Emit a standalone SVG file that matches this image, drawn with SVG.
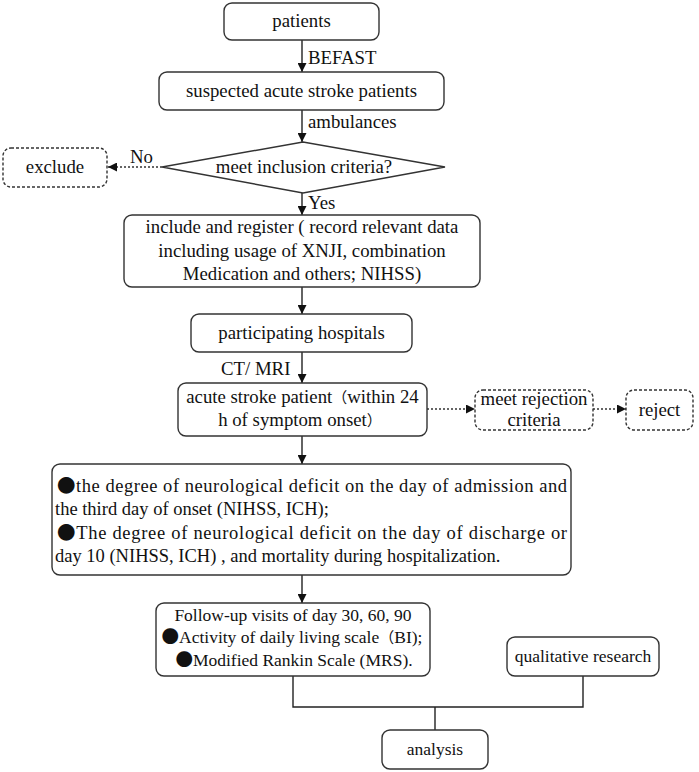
<svg xmlns="http://www.w3.org/2000/svg" width="699" height="772" viewBox="0 0 699 772">
<style>
text{font-family:"Liberation Serif","Times New Roman",serif;font-size:18.8px;fill:#111}
.cjk{font-family:"Noto Sans CJK SC",sans-serif}
.p{font-family:"Noto Sans CJK SC",sans-serif;font-size:15px}
.c{text-anchor:middle}
.m{font-size:18.5px}
.s{font-size:17.5px}
.box{fill:#fff;stroke:#333;stroke-width:1.4}
.dash{fill:#fff;stroke:#333;stroke-width:1.4;stroke-dasharray:3 2}
.ln{fill:none;stroke:#222;stroke-width:1.4}
.dot{fill:none;stroke:#333;stroke-width:1.4;stroke-dasharray:2 2}
</style>
<defs>
<marker id="ah" viewBox="0 0 10 10" refX="10" refY="5" markerWidth="9" markerHeight="9" markerUnits="userSpaceOnUse" orient="auto">
<path d="M0,0 L10,5 L0,10 z" fill="#111"/>
</marker>
</defs>
<g id="connectors">
<line class="ln" x1="302" y1="40" x2="302" y2="72" marker-end="url(#ah)"/>
<line class="ln" x1="302" y1="110" x2="302" y2="142" marker-end="url(#ah)"/>
<line class="dot" x1="162" y1="167" x2="108" y2="167" marker-end="url(#ah)"/>
<line class="ln" x1="302" y1="193" x2="302" y2="215" marker-end="url(#ah)"/>
<line class="ln" x1="302" y1="287" x2="302" y2="314" marker-end="url(#ah)"/>
<line class="ln" x1="302" y1="352" x2="302" y2="383" marker-end="url(#ah)"/>
<line class="dot" x1="427" y1="409" x2="475" y2="409" marker-end="url(#ah)"/>
<line class="dot" x1="593" y1="409" x2="626" y2="409" marker-end="url(#ah)"/>
<line class="ln" x1="302" y1="436" x2="302" y2="464" marker-end="url(#ah)"/>
<line class="ln" x1="302" y1="575" x2="302" y2="603" marker-end="url(#ah)"/>
<polyline class="ln" points="293,676 293,707 583,707 583,676"/>
<line class="ln" x1="435" y1="707" x2="435" y2="730"/>
<text x="308" y="64">BEFAST</text>
<text x="308" y="128">ambulances</text>
<text x="130" y="163">No</text>
<text x="308" y="209">Yes</text>
<text x="221" y="375">CT/ MRI</text>
</g>
<g id="patients">
<rect class="box" x="224" y="3" width="155" height="37" rx="8"/>
<text class="c" x="301.5" y="27">patients</text>
</g>
<g id="suspected">
<rect class="box" x="159" y="72" width="285" height="38" rx="8"/>
<text class="c" x="301.5" y="97">suspected acute stroke patients</text>
</g>
<g id="inclusion">
<polygon class="box" points="162,167 303,142 445,167 303,193"/>
<text class="c" x="304" y="173">meet inclusion criteria?</text>
</g>
<g id="exclude">
<rect class="dash" x="3" y="148" width="104" height="39" rx="8"/>
<text class="c" x="55" y="173">exclude</text>
</g>
<g id="include">
<rect class="box" x="124" y="215" width="356" height="72" rx="8"/>
<text class="c" x="302" y="233">include and register ( record relevant data</text>
<text class="c" x="302" y="257">including usage of XNJI, combination</text>
<text class="c" x="302" y="280">Medication and others; NIHSS)</text>
</g>
<g id="hospitals">
<rect class="box" x="191" y="314" width="221" height="38" rx="8"/>
<text class="c" x="301.5" y="339">participating hospitals</text>
</g>
<g id="acute">
<rect class="box" x="178" y="383" width="249" height="53" rx="8"/>
<text class="c" x="302.5" y="403">acute stroke patient<tspan class="p">（</tspan>within 24</text>
<text class="c" x="300" y="426">h of symptom onset<tspan class="p">）</tspan></text>
</g>
<g id="rejection">
<rect class="dash" x="475" y="390" width="118" height="40" rx="8"/>
<text class="c" x="534" y="405">meet rejection</text>
<text class="c" x="534" y="426">criteria</text>
</g>
<g id="reject">
<rect class="dash" x="626" y="390" width="67" height="40" rx="8"/>
<text class="c" x="659.5" y="416">reject</text>
</g>
<g id="outcomes">
<rect class="box" x="52" y="464" width="519" height="111" rx="8"/>
<text class="m" x="57" y="492" textLength="510" lengthAdjust="spacing"><tspan class="cjk">●</tspan>the degree of neurological deficit on the day of admission and</text>
<text class="m" x="55" y="515">the third day of onset (NIHSS, ICH);</text>
<text class="m" x="57" y="539" textLength="510" lengthAdjust="spacing"><tspan class="cjk">●</tspan>The degree of neurological deficit on the day of discharge or</text>
<text class="m" x="55" y="562">day 10 (NIHSS, ICH) , and mortality during hospitalization.</text>
</g>
<g id="followup">
<rect class="box" x="156" y="603" width="274" height="73" rx="8"/>
<text class="c s" x="293" y="621">Follow-up visits of day 30, 60, 90</text>
<text class="c s" x="292" y="643"><tspan class="cjk">●</tspan>Activity of daily living scale<tspan class="p">（</tspan>BI);</text>
<text class="c s" x="294" y="666"><tspan class="cjk">●</tspan>Modified Rankin Scale (MRS).</text>
</g>
<g id="qualitative">
<rect class="box" x="507" y="637" width="152" height="39" rx="8"/>
<text class="c s" x="583" y="662">qualitative research</text>
</g>
<g id="analysis">
<rect class="box" x="382" y="730" width="106" height="39" rx="8"/>
<text class="c s" x="435" y="755">analysis</text>
</g>
</svg>
